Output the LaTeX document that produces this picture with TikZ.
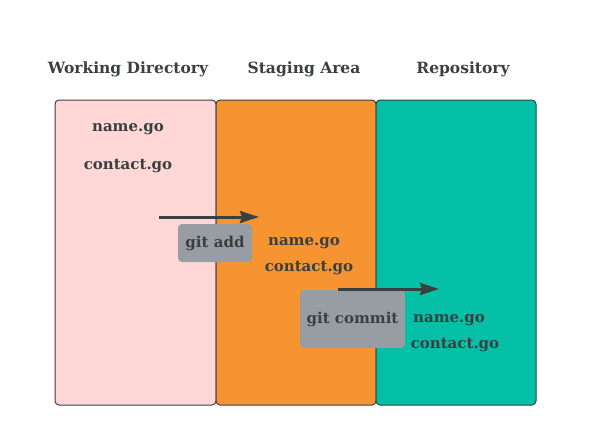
\documentclass[tikz,border=0pt]{standalone}
\usepackage{fontspec}
\setmainfont{DejaVu Serif}
\usepackage{tikz}
\usetikzlibrary{positioning,arrows.meta}
\definecolor{inkgray}{RGB}{58,64,64}
\definecolor{wdpink}{RGB}{255,215,215}
\definecolor{saorange}{RGB}{247,148,50}
\definecolor{repoteal}{RGB}{4,192,166}
\definecolor{cmdgray}{RGB}{152,157,163}
\tikzset{area/.style={rectangle,draw=inkgray,line width=1pt,rounded corners=4pt,minimum width=160pt,minimum height=305pt,outer sep=0pt,inner sep=0pt},}
\tikzset{title/.style={font=\bfseries\fontsize{15.5}{18}\selectfont,text=inkgray},}
\tikzset{file/.style={font=\bfseries\fontsize{15}{18}\selectfont,text=inkgray},}
\tikzset{cmd box/.style={rectangle,fill=cmdgray,rounded corners=4pt,font=\bfseries\fontsize{15}{18}\selectfont,text=inkgray,inner sep=0pt},}
\tikzset{flow/.style={draw=inkgray,line width=3pt,-{Stealth[length=19pt,width=12pt,inset=2pt]}},}

\begin{document}
\begin{tikzpicture}[x=1pt,y=-1pt]
       \useasboundingbox (0,0) rectangle (592,445);
       \node[area,fill=wdpink,minimum width=161pt] (wd) at (135.5,252.5) {};
       \node[area,fill=saorange] (sa) [right = 0pt of wd] {};
       \node[area,fill=repoteal] (repo) [right = 0pt of sa] {};

       \node[title] (wdtitle) at (128,69) {Working Directory};
       \node[title] (satitle) at (304,69) {Staging Area};
       \node[title] (repotitle) at (463,69) {Repository};

       \node[file] (wdname) at (128,129.5) {name.go};
       \node[file] (wdcontact) at (128,166) {contact.go};
       \node[file] (saname) at (304,243.5) {name.go};
       \node[file] (sacontact) at (309,268) {contact.go};
       \node[file] (reponame) at (449,320.5) {name.go};
       \node[file] (repocontact) at (455,345) {contact.go};

       \node[cmd box,minimum width=74pt,minimum height=38pt] (add) at (215,243) {git add};
       \node[cmd box,minimum width=105pt,minimum height=58pt] (commit) at (352.5,319) {git commit};

       \coordinate (addfrom) at (159,217);
       \coordinate (addto) at (259,217);
       \coordinate (commitfrom) at (338,289);
       \coordinate (committo) at (439,289);
       \draw[flow] (addfrom) -- (addto);
       \draw[flow] (commitfrom) -- (committo);
\end{tikzpicture}
\end{document}
